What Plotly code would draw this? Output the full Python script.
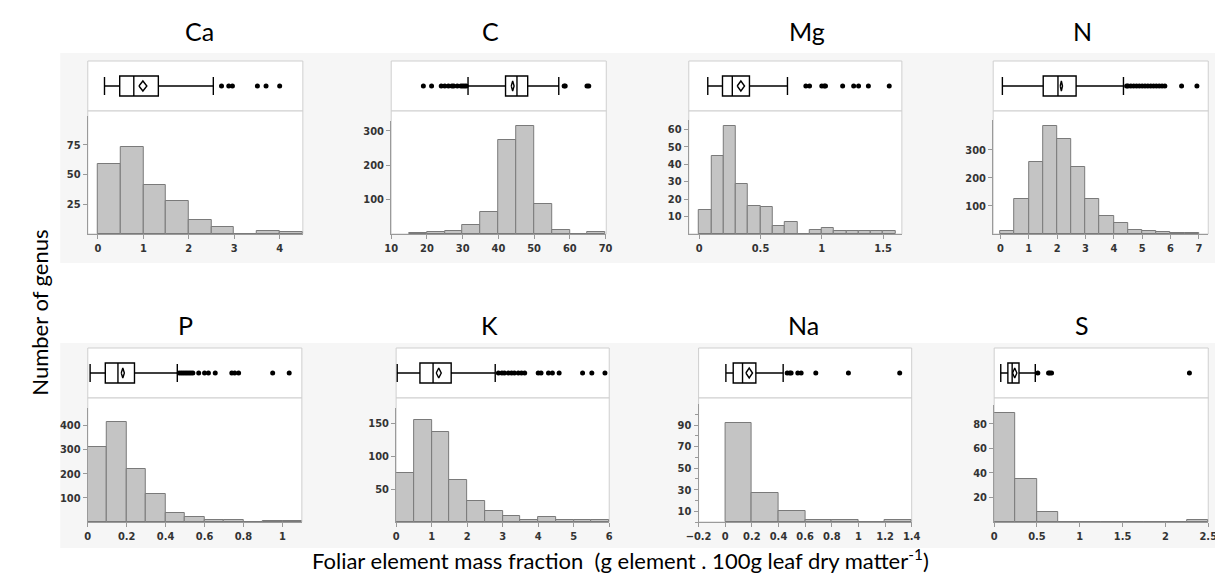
import plotly.graph_objects as go

W, H = 1223, 577

elements = ["Ca", "C", "Mg", "N", "P", "K", "Na", "S"]

# ---------------- histogram data (bin start, bin width, counts) ----------------
ca_bin_start, ca_bin_width = 0.0, 0.5
ca_counts = [59, 73, 41, 28, 12, 6, 0, 2.5, 1.5]

c_bin_start, c_bin_width = 15.0, 5.0
c_counts = [3, 5, 9, 27, 64, 272, 314, 87, 12, 0, 7]

mg_bin_start, mg_bin_width = 0.0, 0.1
mg_counts = [13.5, 44.5, 62, 28.6, 16.2, 15.6, 4.4, 6.7, 0, 2.5, 3.6, 1.5, 1.5, 1.5, 1.5, 1.5]

n_bin_start, n_bin_width = 0.0, 0.5
n_counts = [12, 125, 256, 385, 339, 238, 125, 65, 38, 15, 12, 8, 4, 3]

p_bin_start, p_bin_width = 0.0, 0.1
p_counts = [312, 412, 219, 117, 36, 21, 10, 10, 0, 5, 5]

k_bin_start, k_bin_width = 0.0, 0.5
k_counts = [74.6, 155, 137, 64.5, 31.5, 17.3, 9.1, 3.6, 7.6, 3.6, 3.6, 3.6]

na_bin_start, na_bin_width = 0.0, 0.2
na_counts = [92, 27, 10, 2, 2, 0, 2]

s_bin_start, s_bin_width = 0.0, 0.25
s_counts = [89, 35, 8, 0, 0, 0, 0, 0, 0, 2]

# ---------------- box plot statistics ----------------
# [lower whisker, Q1, median, mean, Q3, upper whisker]
ca_box = [0.145, 0.48, 0.79, 0.99, 1.33, 2.54]
c_box = [31.5, 42.0, 45.2, 44.0, 48.2, 56.9]
mg_box = [0.07, 0.19, 0.27, 0.34, 0.41, 0.72]
n_box = [0.07, 1.51, 2.03, 2.15, 2.67, 4.34]
p_box = [0.012, 0.09, 0.155, 0.18, 0.24, 0.46]
k_box = [0.03, 0.67, 1.04, 1.2, 1.55, 2.79]
na_box = [0.005, 0.06, 0.13, 0.18, 0.23, 0.435]
s_box = [0.077, 0.16, 0.21, 0.24, 0.29, 0.48]

# half width of the mean confidence diamond
mean_ci_half = [0.087, 0.4, 0.03, 0.04, 0.008, 0.07, 0.025, 0.025]

# ---------------- outliers ----------------
ca_out = [2.72, 2.88, 2.96, 3.51, 3.70, 4.0]
c_out = [19.0, 21.3, 24.0, 25.0, 26.0, 27.0, 27.5, 28.5, 29.5, 30.0, 30.5, 31.0, 58.4, 58.7, 64.8, 65.3]
mg_out = [0.87, 0.9, 1.0, 1.02, 1.03, 1.17, 1.26, 1.3, 1.38, 1.55]
n_out = [4.45, 4.5, 4.6, 4.7, 4.8, 4.9, 5.0, 5.1, 5.2, 5.3, 5.4, 5.5, 5.6, 5.7, 5.8, 6.39, 6.93]
p_out = [0.47, 0.48, 0.49, 0.5, 0.51, 0.52, 0.53, 0.54, 0.57, 0.6, 0.62, 0.655, 0.74, 0.755, 0.775, 0.95, 1.035]
k_out = [2.88, 2.98, 3.05, 3.16, 3.25, 3.33, 3.44, 3.53, 3.62, 4.0, 4.08, 4.29, 4.4, 4.59, 5.25, 5.51, 5.88]
na_out = [0.465, 0.485, 0.495, 0.545, 0.57, 0.68, 0.925, 1.31]
s_out = [0.51, 0.635, 0.65, 0.67, 2.28]

# ---------------- axis ticks ----------------
ca_yticks, ca_xticks = [25, 50, 75], [0, 1, 2, 3, 4]
c_yticks, c_xticks = [100, 200, 300], [10, 20, 30, 40, 50, 60, 70]
mg_yticks, mg_xticks = [10, 20, 30, 40, 50, 60], [0, 0.5, 1, 1.5]
n_yticks, n_xticks = [100, 200, 300], [0, 1, 2, 3, 4, 5, 6, 7]
p_yticks, p_xticks = [100, 200, 300, 400], [0, 0.2, 0.4, 0.6, 0.8, 1]
k_yticks, k_xticks = [50, 100, 150], [0, 1, 2, 3, 4, 5, 6]
na_yticks, na_xticks = [10, 30, 50, 70, 90], [-0.2, 0, 0.2, 0.4, 0.6, 0.8, 1, 1.2, 1.4]
s_yticks, s_xticks = [20, 40, 60, 80], [0, 0.5, 1, 1.5, 2, 2.5]

bins = [(ca_bin_start, ca_bin_width, ca_counts), (c_bin_start, c_bin_width, c_counts),
        (mg_bin_start, mg_bin_width, mg_counts), (n_bin_start, n_bin_width, n_counts),
        (p_bin_start, p_bin_width, p_counts), (k_bin_start, k_bin_width, k_counts),
        (na_bin_start, na_bin_width, na_counts), (s_bin_start, s_bin_width, s_counts)]
boxes = [ca_box, c_box, mg_box, n_box, p_box, k_box, na_box, s_box]
outs = [ca_out, c_out, mg_out, n_out, p_out, k_out, na_out, s_out]
yticks = [ca_yticks, c_yticks, mg_yticks, n_yticks, p_yticks, k_yticks, na_yticks, s_yticks]
xticks = [ca_xticks, c_xticks, mg_xticks, n_xticks, p_xticks, k_xticks, na_xticks, s_xticks]

# ---------------- layout geometry (pixels) ----------------
# x0, x1, box_top, box_bottom, yaxis_top, baseline
panel_px = [
    (68, 287, 53, 103, 108, 226),
    (377, 596, 53, 103, 113, 226),
    (680, 897, 53, 103, 112, 226),
    (990, 1209, 53, 103, 112, 226),
    (68, 286, 340, 390, 400, 514),
    (382, 599, 340, 390, 400, 514),
    (690, 907, 340, 390, 396, 514),
    (991, 1209, 340, 390, 397, 514),
]
x_ranges = [[-0.223, 4.51], [10, 70.2], [-0.085, 1.653], [-0.254, 7.33],
            [0, 1.1], [0, 6], [-0.2, 1.4], [0, 2.5]]
y_tops = [99.4, 328, 65.3, 405.7, 471.7, 173.5, 109.6, 95.4]
title_px = [(182, 23), (478, 23), (800, 23), (1081, 23),
            (168, 317), (477, 317), (797, 317), (1080, 317)]


def px(x):
    return x / W


def py(y):
    return 1 - y / H


fig = go.Figure()
layout = {}
shapes = []
annotations = []

# gray panel bands
for (yt, yb) in [(45, 255), (335, 540)]:
    shapes.append(dict(type="rect", xref="paper", yref="paper", x0=px(40), x1=px(1218),
                       y0=py(yb), y1=py(yt), fillcolor="#f6f6f6", line=dict(width=0), layer="below"))

tick_font = dict(family="Liberation Sans Narrow, DejaVu Sans Condensed, sans-serif",
                 size=11, color="#333333", weight="bold")

for i, el in enumerate(elements):
    bx, by = 2 * i + 1, 2 * i + 2
    bxs = "" if bx == 1 else str(bx)
    hxs = str(by)
    x0, x1, bt, bb, yt, base = panel_px[i]

    # white frames
    shapes.append(dict(type="rect", xref="paper", yref="paper", x0=px(x0), x1=px(x1),
                       y0=py(bb), y1=py(bt), fillcolor="white",
                       line=dict(color="#cfcfcf", width=1), layer="below"))
    shapes.append(dict(type="rect", xref="paper", yref="paper", x0=px(x0), x1=px(x1),
                       y0=py(base), y1=py(bb), fillcolor="white",
                       line=dict(color="#cfcfcf", width=1), layer="below"))

    # histogram bars
    start, width, counts = bins[i]
    centers = [start + width * (k + 0.5) for k in range(len(counts))]
    fig.add_trace(go.Bar(x=centers, y=counts, width=[width] * len(counts),
                         marker=dict(color="#c4c4c4", line=dict(color="#7a7a7a", width=1)),
                         xaxis="x" + hxs, yaxis="y" + hxs, showlegend=False, hoverinfo="skip"))

    # box plot
    lo, q1, med, mean, q3, hi = boxes[i]
    fig.add_trace(go.Box(y=[0], q1=[q1], median=[med], q3=[q3], lowerfence=[lo], upperfence=[hi],
                         orientation="h", width=0.8, whiskerwidth=0.9, boxpoints=False,
                         fillcolor="white", line=dict(color="black", width=1.4),
                         xaxis="x" + bxs, yaxis="y" + bxs, showlegend=False, hoverinfo="skip"))
    # mean diamond
    hw = mean_ci_half[i]
    fig.add_trace(go.Scatter(x=[mean - hw, mean, mean + hw, mean, mean - hw],
                             y=[0, 0.2, 0, -0.2, 0], mode="lines",
                             line=dict(color="black", width=1.4),
                             xaxis="x" + bxs, yaxis="y" + bxs, showlegend=False, hoverinfo="skip"))
    # outliers
    fig.add_trace(go.Scatter(x=outs[i], y=[0] * len(outs[i]), mode="markers",
                             marker=dict(color="black", size=5),
                             xaxis="x" + bxs, yaxis="y" + bxs, showlegend=False, hoverinfo="skip"))

    # axes
    layout["xaxis" + bxs] = dict(domain=[px(x0), px(x1)], range=x_ranges[i], visible=False,
                                 anchor="y" + bxs, fixedrange=True)
    layout["yaxis" + bxs] = dict(domain=[py(bb), py(bt)], range=[-1, 1], visible=False,
                                 anchor="x" + bxs, fixedrange=True)
    layout["xaxis" + hxs] = dict(domain=[px(x0), px(x1)], range=x_ranges[i], anchor="y" + hxs,
                                 tickvals=xticks[i], ticks="outside", ticklen=4, tickcolor="#999999",
                                 showline=True, linecolor="#9a9a9a", linewidth=1,
                                 showgrid=False, zeroline=False, tickfont=tick_font)
    ydict = dict(domain=[py(base), py(yt)], range=[0, y_tops[i]], anchor="x" + hxs,
                 tickvals=yticks[i], ticks="outside", ticklen=4, tickcolor="#999999",
                 showline=True, linecolor="#9a9a9a", linewidth=1,
                 showgrid=False, zeroline=False, tickfont=tick_font)
    if el == "Na":
        ydict["minor"] = dict(dtick=10, tick0=0, ticks="outside", ticklen=3, tickcolor="#999999")
    layout["yaxis" + hxs] = ydict

    tx, ty = title_px[i]
    annotations.append(dict(text=el, x=px(tx), y=py(ty), xref="paper", yref="paper",
                            showarrow=False, xanchor="center", yanchor="middle",
                            font=dict(family="Lato, Open Sans, sans-serif", size=25, color="black")))

annotations.append(dict(text="Number of genus", x=px(18), y=py(305), xref="paper", yref="paper",
                        showarrow=False, textangle=-90, xanchor="center", yanchor="middle",
                        font=dict(family="Lato, Open Sans, sans-serif", size=22, color="black")))
annotations.append(dict(text="Foliar element mass fraction\u00a0 (g element . 100g leaf dry matter<sup>-1</sup>)",
                        x=px(610), y=py(551), xref="paper", yref="paper",
                        showarrow=False, xanchor="center", yanchor="middle",
                        font=dict(family="Lato, Open Sans, sans-serif", size=22, color="black")))

fig.update_layout(width=W, height=H, margin=dict(l=0, r=0, t=0, b=0),
                  paper_bgcolor="white", plot_bgcolor="rgba(0,0,0,0)",
                  shapes=shapes, annotations=annotations, bargap=0, showlegend=False,
                  **layout)

fig.write_html("out.html")
